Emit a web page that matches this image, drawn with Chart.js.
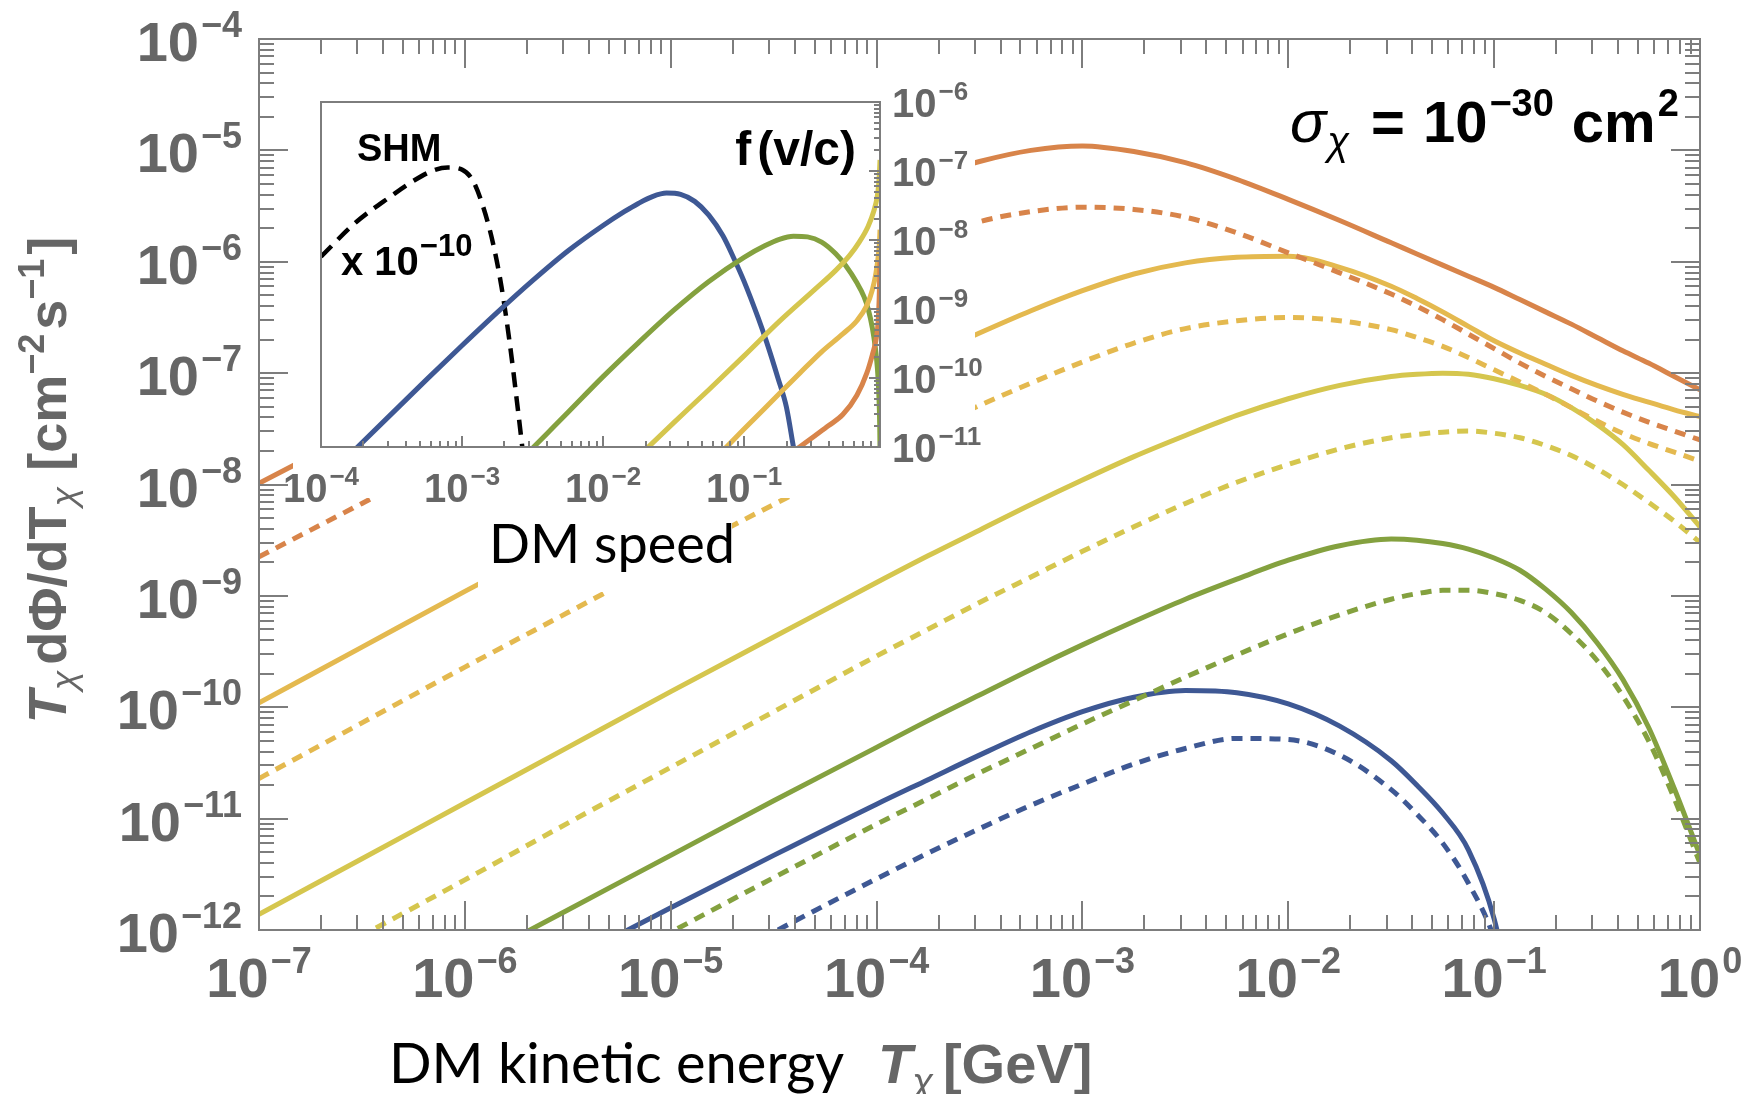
<!DOCTYPE html>
<html>
<head>
<meta charset="utf-8">
<title>DM flux</title>
<script src="https://cdn.jsdelivr.net/npm/chart.js@4.4.1/dist/chart.umd.min.js"></script>
<style>
  body { margin: 0; background: #fff; }
  #plot { position: relative; width: 1742px; height: 1094px; }
  #plot canvas { position: absolute; left: 0; top: 0; }
</style>
</head>
<body>
<div id="plot">
  <canvas id="flux-chart" width="1742" height="1094"></canvas>
  <canvas id="speed-chart" width="1742" height="1094"></canvas>
</div>
<script>
// log10 of the kinetic energy T [GeV], shared by all flux curves
const energy_exp = [-7, -6.5, -6, -5.5, -5, -4.5, -4, -3.75, -3.5, -3.25, -3, -2.75, -2.5, -2.25, -2, -1.75, -1.5, -1.375, -1.25, -1.125, -1, -0.875, -0.75, -0.625, -0.5, -0.375, -0.25, -0.125, 0]

// log10 of T dPhi/dT [cm^-2 s^-1]
const orange_solid  = [-7.99, -7.51, -7.04, -6.59, -6.17, -5.77, -5.41, -5.24, -5.10, -5.00, -4.96, -5.01, -5.11, -5.26, -5.44, -5.63, -5.83, -5.93, -6.03, -6.13, -6.23, -6.34, -6.45, -6.56, -6.68, -6.80, -6.91, -7.03, -7.15]
const orange_dotted = [-8.65, -8.17, -7.69, -7.22, -6.77, -6.37, -6.02, -5.80, -5.64, -5.55, -5.51, -5.53, -5.60, -5.74, -5.92, -6.10, -6.29, -6.40, -6.52, -6.65, -6.78, -6.91, -7.03, -7.14, -7.25, -7.35, -7.44, -7.52, -7.60]
const gold_solid    = [-9.96, -9.46, -8.96, -8.47, -7.99, -7.53, -7.07, -6.85, -6.64, -6.44, -6.26, -6.11, -6.01, -5.96, -5.95, -6.05, -6.22, -6.33, -6.45, -6.58, -6.71, -6.82, -6.92, -7.02, -7.11, -7.19, -7.26, -7.33, -7.39]
const gold_dotted   = [-10.64, -10.14, -9.64, -9.15, -8.66, -8.18, -7.72, -7.50, -7.29, -7.09, -6.90, -6.73, -6.60, -6.53, -6.50, -6.53, -6.61, -6.68, -6.76, -6.86, -6.97, -7.08, -7.19, -7.31, -7.43, -7.54, -7.63, -7.71, -7.79]
const yellow_solid  = [-11.86, -11.36, -10.86, -10.36, -9.86, -9.37, -8.88, -8.64, -8.41, -8.18, -7.96, -7.75, -7.56, -7.38, -7.23, -7.11, -7.03, -7.01, -7.00, -7.01, -7.05, -7.11, -7.19, -7.31, -7.46, -7.64, -7.87, -8.11, -8.38]
const yellow_dotted = [-12.55, -12.05, -11.55, -11.04, -10.54, -10.04, -9.54, -9.30, -9.06, -8.83, -8.60, -8.38, -8.17, -7.98, -7.82, -7.68, -7.58, -7.55, -7.53, -7.52, -7.54, -7.58, -7.65, -7.74, -7.86, -8.00, -8.16, -8.33, -8.52]
const green_solid   = [-13.3, -12.8, -12.31, -11.82, -11.33, -10.84, -10.36, -10.12, -9.89, -9.66, -9.44, -9.23, -9.03, -8.85, -8.68, -8.55, -8.49, -8.50, -8.53, -8.58, -8.66, -8.77, -8.94, -9.15, -9.42, -9.75, -10.18, -10.73, -11.33]
const green_dotted  = [-14.0, -13.5, -13.0, -12.51, -12.02, -11.53, -11.05, -10.82, -10.59, -10.37, -10.15, -9.94, -9.73, -9.53, -9.34, -9.17, -9.03, -8.98, -8.95, -8.95, -8.98, -9.04, -9.15, -9.34, -9.58, -9.90, -10.30, -10.82, -11.40]
const blue_solid    = [-13.72, -13.24, -12.76, -12.28, -11.80, -11.33, -10.87, -10.65, -10.43, -10.22, -10.04, -9.91, -9.85, -9.87, -9.97, -10.17, -10.48, -10.70, -10.95, -11.28, -11.90, -13.0, null, null, null, null, null, null, null]
const blue_dotted   = [-14.5, -14.0, -13.5, -13.0, -12.52, -12.02, -11.54, -11.31, -11.09, -10.88, -10.69, -10.51, -10.37, -10.28, -10.29, -10.43, -10.74, -10.96, -11.22, -11.58, -12.08, -13.0, null, null, null, null, null, null, null]

// inset: log10(v/c) and log10 f(v/c)
const shm_speed    = [-4, -3.75, -3.5, -3.35, -3.2, -3.1, -3.0, -2.92, -2.85, -2.78, -2.72, -2.66, -2.61, -2.57]
const shm_f        = [-8.24, -7.74, -7.36, -7.15, -6.99, -6.95, -6.98, -7.15, -7.52, -8.05, -8.68, -9.52, -10.35, -11.05]
const blue_speed   = [-3.8, -3.5, -3.25, -3.0, -2.75, -2.5, -2.25, -2.0, -1.85, -1.75, -1.65, -1.55, -1.45, -1.35, -1.25, -1.15, -1.076, -1.0, -0.9, -0.84, -0.76, -0.70, -0.65]
const blue_f       = [-11.12, -10.52, -10.02, -9.53, -9.05, -8.59, -8.16, -7.79, -7.59, -7.47, -7.37, -7.32, -7.34, -7.44, -7.64, -7.94, -8.25, -8.60, -9.13, -9.48, -10.0, -10.42, -11.0]
const green_speed  = [-2.55, -2.4, -2.25, -2.0, -1.75, -1.5, -1.25, -1.0, -0.85, -0.75, -0.65, -0.55, -0.45, -0.35, -0.28, -0.2, -0.15, -0.12, -0.09, -0.07, -0.055, -0.045, -0.038, -0.036]
const green_f      = [-11.12, -10.81, -10.50, -9.98, -9.49, -9.02, -8.60, -8.25, -8.08, -7.99, -7.945, -7.955, -8.03, -8.20, -8.37, -8.62, -8.82, -9.0, -9.28, -9.55, -9.85, -10.2, -10.7, -11.05]
const yellow_speed = [-1.75, -1.5, -1.25, -1.0, -0.75, -0.5, -0.35, -0.25, -0.18, -0.12, -0.08, -0.055, -0.045, -0.04, -0.036]
const yellow_f     = [-11.14, -10.65, -10.17, -9.68, -9.18, -8.72, -8.44, -8.22, -8.02, -7.80, -7.58, -7.36, -7.18, -7.02, -6.84]
const gold_speed   = [-1.2, -1.0, -0.8, -0.6, -0.45, -0.3, -0.2, -0.13, -0.09, -0.065, -0.05, -0.04, -0.036]
const gold_f       = [-11.16, -10.74, -10.33, -9.92, -9.62, -9.36, -9.17, -8.95, -8.72, -8.48, -8.26, -8.04, -7.85]
const orange_speed = [-0.66, -0.5, -0.4, -0.3, -0.2, -0.13, -0.09, -0.065, -0.05, -0.042, -0.036]
const orange_f     = [-11.08, -10.84, -10.69, -10.53, -10.25, -9.93, -9.66, -9.45, -9.2, -8.85, -8.3]

// tick label exponents
const energy_ticks = [-7, -6, -5, -4, -3, -2, -1, 0]
const flux_ticks = [-12, -11, -10, -9, -8, -7, -6, -5, -4]
const speed_ticks = [-4, -3, -2, -1]
const speed_f_ticks = [-11, -10, -9, -8, -7, -6]

const colors = {
    orange: '#d8844a',
    gold: '#e4b94f',
    yellow: '#d5c64e',
    green: '#84a13f',
    blue: '#3e5894',
}
const frame_color = '#7d7d7d'
const label_color = '#666666'
const bold = size => 'bold ' + size + 'px "Liberation Sans"'
const italic = size => 'italic ' + size + 'px "Liberation Sans"'
const bold_italic = size => 'italic bold ' + size + 'px "Liberation Sans"'


function points(xs, ys) {
    let out = []
    for (let i = 0; i < xs.length; i++) {
        if (ys[i] === null) continue
        out.push({x: 10 ** xs[i], y: 10 ** ys[i]})
    }
    return out
}

function curve(xs, ys, color, dash) {
    return {
        data: points(xs, ys),
        borderColor: color,
        borderWidth: 5,
        borderDash: dash || [],
        borderCapStyle: 'butt',
        pointRadius: 0,
        fill: false,
        cubicInterpolationMode: 'monotone',
    }
}

// 1..9 x 10^e ticks, major on the decades
function tick_values(lo, hi, top_value) {
    let out = []
    for (let e = lo; e <= hi; e++) {
        for (let m = 1; m <= 9; m++) {
            let v = m * 10 ** e
            if (v > top_value * 1.0001) break
            out.push({v: v, major: m === 1})
        }
    }
    return out
}

// draws a row of text pieces, each with its own font and baseline shift
function text_runs(ctx, parts, x, y, align) {
    let width = 0
    for (const p of parts) {
        ctx.font = p.font
        p.w = ctx.measureText(p.text).width + (p.pad || 0)
        width += p.w
    }
    let cx = x
    if (align === 'center') cx = x - width / 2
    if (align === 'right') cx = x - width
    for (const p of parts) {
        ctx.font = p.font
        ctx.fillStyle = p.color
        ctx.fillText(p.text, cx, y + (p.dy || 0))
        cx += p.w
    }
    return width
}

function power_label(exp, size, color) {
    let sup = exp < 0 ? '\u2212' + (-exp) : String(exp)
    return [
        {text: '10', font: bold(size), color: color, pad: 2},
        {text: sup, font: bold(Math.round(size * 0.65)), color: color, dy: -Math.round(size * 0.42)},
    ]
}


const flux_frame = {
    id: 'flux_frame',
    afterDraw(chart) {
        const ctx = chart.ctx
        const a = chart.chartArea
        const x = chart.scales.x
        const y = chart.scales.y
        ctx.save()
        ctx.strokeStyle = frame_color
        ctx.lineWidth = 2
        ctx.beginPath()
        for (const t of tick_values(-7, 0, 1)) {
            let px = Math.round(x.getPixelForValue(t.v))
            let len = t.major ? 29 : 15
            ctx.moveTo(px, a.bottom); ctx.lineTo(px, a.bottom - len)
            ctx.moveTo(px, a.top); ctx.lineTo(px, a.top + len)
        }
        for (const t of tick_values(-12, -4, 1e-4)) {
            let py = Math.round(y.getPixelForValue(t.v))
            let len = t.major ? 29 : 15
            ctx.moveTo(a.left, py); ctx.lineTo(a.left + len, py)
            ctx.moveTo(a.right, py); ctx.lineTo(a.right - len, py)
        }
        ctx.stroke()
        ctx.strokeRect(a.left, a.top, a.right - a.left, a.bottom - a.top)

        ctx.textBaseline = 'alphabetic'
        for (const e of energy_ticks) {
            text_runs(ctx, power_label(e, 56, label_color), x.getPixelForValue(10 ** e), a.bottom + 67, 'center')
        }
        for (const e of flux_ticks) {
            text_runs(ctx, power_label(e, 56, label_color), 242, y.getPixelForValue(10 ** e) + 22, 'right')
        }

        // axis titles
        text_runs(ctx, [{text: 'DM kinetic energy', font: '56px Lato', color: '#000'}], 389, 1083, 'left')
        text_runs(ctx, [
            {text: 'T', font: bold_italic(56), color: label_color},
            {text: '\u03c7', font: italic(38), color: label_color, dy: 12, pad: 10},
            {text: '[GeV]', font: bold(56), color: label_color},
        ], 878, 1083, 'left')

        ctx.save()
        ctx.translate(66, 480)
        ctx.rotate(-Math.PI / 2)
        text_runs(ctx, [
            {text: 'T', font: bold_italic(54), color: label_color},
            {text: '\u03c7', font: italic(36), color: label_color, dy: 10, pad: 6},
            {text: 'd\u03a6/dT', font: bold(54), color: label_color},
            {text: '\u03c7', font: italic(36), color: label_color, dy: 10, pad: 16},
            {text: '[cm', font: bold(54), color: label_color},
            {text: '\u22122', font: bold(36), color: label_color, dy: -22, pad: 4},
            {text: 's', font: bold(54), color: label_color},
            {text: '\u22121', font: bold(36), color: label_color, dy: -22, pad: 4},
            {text: ']', font: bold(54), color: label_color},
        ], 0, 0, 'center')
        ctx.restore()

        text_runs(ctx, [
            {text: '\u03c3', font: italic(60), color: '#000', pad: 1},
            {text: '\u03c7', font: italic(40), color: '#000', dy: 13, pad: 22},
            {text: '=', font: bold(58), color: '#000', pad: 18},
            {text: '10', font: bold(58), color: '#000', pad: 2},
            {text: '\u221230', font: bold(38), color: '#000', dy: -26, pad: 18},
            {text: 'cm', font: bold(58), color: '#000', pad: 2},
            {text: '2', font: bold(38), color: '#000', dy: -26},
        ], 1290, 142, 'left')
        ctx.restore()
    }
}

const speed_frame = {
    id: 'speed_frame',
    beforeDatasetsDraw(chart) {
        // white panel the inset sits on, plus the strip behind its axis title
        const ctx = chart.ctx
        ctx.save()
        ctx.fillStyle = '#fff'
        ctx.fillRect(293, 72, 682, 426)
        ctx.fillRect(478, 498, 254, 94)
        ctx.restore()
    },
    afterDraw(chart) {
        const ctx = chart.ctx
        const a = chart.chartArea
        const x = chart.scales.x
        const y = chart.scales.y
        ctx.save()
        ctx.strokeStyle = frame_color
        ctx.lineWidth = 2
        ctx.beginPath()
        for (const t of tick_values(-4, -1, 0.92)) {
            let px = Math.round(x.getPixelForValue(t.v))
            let len = t.major ? 11 : 6
            ctx.moveTo(px, a.bottom); ctx.lineTo(px, a.bottom - len)
        }
        for (const t of tick_values(-11, -6, 1e-6)) {
            let py = Math.round(y.getPixelForValue(t.v))
            let len = t.major ? 11 : 6
            ctx.moveTo(a.right, py); ctx.lineTo(a.right - len, py)
        }
        ctx.stroke()
        ctx.strokeRect(a.left, a.top, a.right - a.left, a.bottom - a.top)

        ctx.textBaseline = 'alphabetic'
        for (const e of speed_ticks) {
            text_runs(ctx, power_label(e, 40, label_color), x.getPixelForValue(10 ** e), 502, 'center')
        }
        for (const e of speed_f_ticks) {
            text_runs(ctx, power_label(e, 40, label_color), a.right + 12, y.getPixelForValue(10 ** e) + 15, 'left')
        }

        text_runs(ctx, [{text: 'DM speed', font: '54px Lato', color: '#000'}], 489, 563, 'left')
        text_runs(ctx, [{text: 'SHM', font: bold(38), color: '#000'}], 357, 161, 'left')
        text_runs(ctx, [
            {text: 'x 10', font: bold(40), color: '#000', pad: 1},
            {text: '\u221210', font: bold(31), color: '#000', dy: -19},
        ], 341, 275, 'left')
        text_runs(ctx, [
            {text: 'f', font: bold(48), color: '#000', pad: 6},
            {text: '(v/c)', font: bold(48), color: '#000'},
        ], 856, 165, 'right')
        ctx.restore()
    }
}


const base_options = {
    responsive: false,
    devicePixelRatio: 1,
    animation: false,
    events: [],
    plugins: {legend: {display: false}, tooltip: {enabled: false}},
}

let flux_chart = new Chart(document.getElementById('flux-chart'), {
    type: 'line',
    data: {
        datasets: [
            curve(energy_exp, blue_dotted, colors.blue, [11, 8]),
            curve(energy_exp, green_dotted, colors.green, [11, 8]),
            curve(energy_exp, yellow_dotted, colors.yellow, [11, 8]),
            curve(energy_exp, gold_dotted, colors.gold, [11, 8]),
            curve(energy_exp, orange_dotted, colors.orange, [11, 8]),
            curve(energy_exp, blue_solid, colors.blue),
            curve(energy_exp, green_solid, colors.green),
            curve(energy_exp, yellow_solid, colors.yellow),
            curve(energy_exp, gold_solid, colors.gold),
            curve(energy_exp, orange_solid, colors.orange),
        ]
    },
    options: Object.assign({}, base_options, {
        layout: {padding: {left: 259, right: 42, top: 39, bottom: 164}},
        scales: {
            x: {type: 'logarithmic', min: 1e-7, max: 1, display: false},
            y: {type: 'logarithmic', min: 1e-12, max: 1e-4, display: false},
        }
    }),
    plugins: [flux_frame]
})

let speed_chart = new Chart(document.getElementById('speed-chart'), {
    type: 'line',
    data: {
        datasets: [
            curve(orange_speed, orange_f, colors.orange),
            curve(gold_speed, gold_f, colors.gold),
            curve(yellow_speed, yellow_f, colors.yellow),
            curve(green_speed, green_f, colors.green),
            curve(blue_speed, blue_f, colors.blue),
            Object.assign(curve(shm_speed, shm_f, '#000', [15, 9]), {borderWidth: 4.5}),
        ]
    },
    options: Object.assign({}, base_options, {
        layout: {padding: {left: 321, right: 862, top: 102, bottom: 647}},
        scales: {
            x: {type: 'logarithmic', min: 1e-4, max: 0.92, display: false},
            y: {type: 'logarithmic', min: 1e-11, max: 1e-6, display: false},
        }
    }),
    plugins: [speed_frame]
})
</script>
</body>
</html>
